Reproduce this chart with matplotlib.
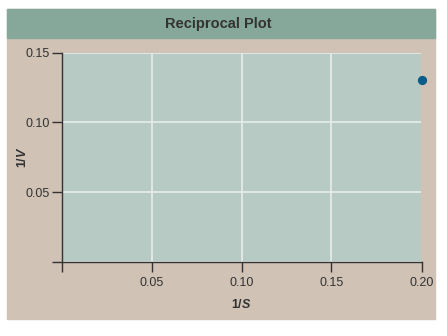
import matplotlib
matplotlib.use('Agg')
import matplotlib.pyplot as plt
from matplotlib.patches import Rectangle

# data
inv_s = [0.20]
inv_v = [0.13]
x_ticks = [0, 0.05, 0.10, 0.15, 0.20]
x_labels = ['', '0.05', '0.10', '0.15', '0.20']
y_ticks = [0, 0.05, 0.10, 0.15]
y_labels = ['', '0.05', '0.10', '0.15']

plt.rcParams['font.family'] = ['Liberation Sans', 'DejaVu Sans']
plt.rcParams['mathtext.fontset'] = 'custom'
plt.rcParams['mathtext.rm'] = 'Liberation Sans:bold'
plt.rcParams['mathtext.it'] = 'Liberation Sans:italic:bold'

W, H = 447, 336
fig = plt.figure(figsize=(W / 100, H / 100), dpi=100)
fig.patch.set_facecolor('white')

# tan panel and green title bar (behind the axes)
fig.patches.append(Rectangle((7 / W, 1 - 319 / H), 428 / W, 310 / H,
                             transform=fig.transFigure, color='#d0c2b5', zorder=-2))
fig.patches.append(Rectangle((7 / W, 1 - 38 / H), 428 / W, 29 / H,
                             transform=fig.transFigure, color='#85a89a', zorder=-1))
fig.text(218 / W, 1 - 24 / H, 'Reciprocal Plot', ha='center', va='center',
         fontsize=10.5, fontweight='bold', color='#333333')

ax = fig.add_axes([61.5 / W, 1 - 262 / H, 360 / W, 209.5 / H])
ax.set_facecolor('#b8cac4')
ax.set_xlim(0, 0.20)
ax.set_ylim(0, 0.15)
ax.set_xticks(x_ticks, x_labels)
ax.set_yticks(y_ticks, y_labels)
ax.grid(True, color='#e6eeeb', linewidth=1.2)
ax.set_axisbelow(True)
for s in ['top', 'right']:
    ax.spines[s].set_visible(False)
for s in ['left', 'bottom']:
    ax.spines[s].set_color('#333333')
    ax.spines[s].set_linewidth(1.0)
ax.tick_params(direction='out', length=7, width=1.0, color='#333333',
               labelsize=9, labelcolor='#333333', pad=1.5)
ax.tick_params(axis='x', pad=4)

ax.scatter(inv_s, inv_v, s=32, color='#0b5c88', zorder=5, clip_on=False)

ax.set_xlabel(r'$\mathrm{1/}\mathit{S}$', fontsize=9, color='#333333', labelpad=6.5)
ax.set_ylabel(r'$\mathrm{1/}\mathit{V}$', fontsize=9, color='#333333')
ax.yaxis.set_label_coords(-0.09, 0.5)

fig.savefig('out.png', dpi=100)
